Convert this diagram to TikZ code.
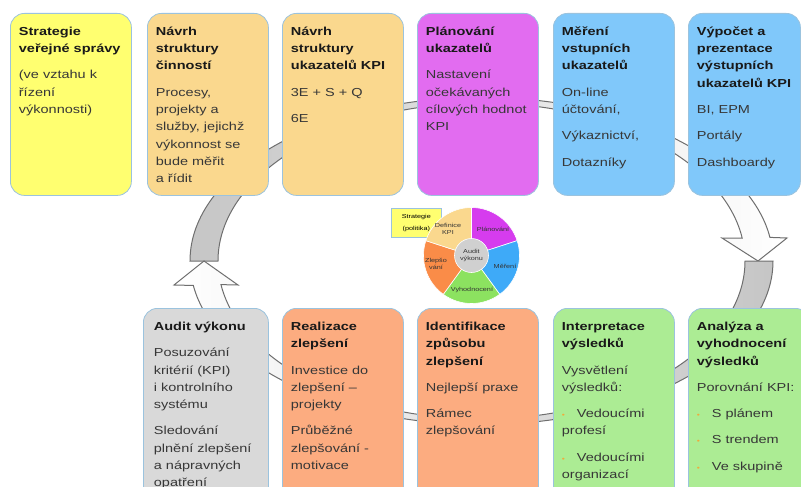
\documentclass[tikz,border=0pt]{standalone}
\usepackage{fontspec}
\setmainfont{Liberation Sans}[FakeStretch=1.25]
\usepackage{tikz}
\usetikzlibrary{calc}

\definecolor{cyellow}{RGB}{255,255,112}
\definecolor{corange}{RGB}{250,216,142}
\definecolor{cmagenta}{RGB}{226,108,240}
\definecolor{cblue}{RGB}{128,200,250}
\definecolor{cgrey}{RGB}{217,217,217}
\definecolor{csalmon}{RGB}{252,172,128}
\definecolor{cgreen}{RGB}{172,236,148}
\definecolor{cedge}{RGB}{155,195,222}
\definecolor{ctitle}{RGB}{25,25,25}
\definecolor{cbody}{RGB}{55,55,55}
\definecolor{cbullet}{RGB}{240,170,60}
\definecolor{cring}{RGB}{110,110,110}
\definecolor{pmagenta}{RGB}{214,60,238}
\definecolor{pblue}{RGB}{62,170,248}
\definecolor{pgreen}{RGB}{140,226,96}
\definecolor{porange}{RGB}{250,140,72}
\definecolor{pgrey}{RGB}{208,208,208}

\newlength{\stageh}
\setlength{\stageh}{170pt}
\newcommand{\stage}[3][104pt]{\parbox[t][\stageh][t]{#1}{\fontsize{11.6}{17.3}\selectfont
  \setlength{\parskip}{9pt}\raggedright
  \rule{0pt}{16pt}{\color{ctitle}\textbf{#2}}\par{\color{cbody}#3\par}}}
\newcommand{\bul}[1]{\par\hangindent=15pt\hangafter=1\makebox[15pt][l]{\textcolor{cbullet}{\scriptsize\textbullet}}#1}

\tikzset{
  stage/.style={draw=cedge, line width=0.8pt, rounded corners=14pt, anchor=north west,
    inner xsep=8.5pt, inner ysep=6pt, minimum width=121pt},
  ringband/.style={draw=cring, line width=1pt},
  pieslice/.style={draw=white, line width=0.6pt}
}

\begin{document}
\begin{tikzpicture}[x=1pt, y=-1pt]
\useasboundingbox (0,0) rectangle (801,487);
\clip (0,0) rectangle (801,487);
\coordinate (ring) at (481.5,261);
\coordinate (pie) at (471.5,255.5);

\path[ringband, left color=gray!45, right color=white]
  ($(ring)+(180:291.5 and 163.6)$) arc[start angle=180, end angle=351.7, x radius=291.5, y radius=163.6]
  -- (787,238) -- (758,261) -- (722,238)
  -- ($(ring)+(351.7:263.5 and 158)$) arc[start angle=351.7, end angle=180, x radius=263.5, y radius=158] -- cycle;
\path[ringband, left color=white, right color=gray!45]
  ($(ring)+(0:291.5 and 163.6)$) arc[start angle=0, end angle=171.4, x radius=291.5, y radius=163.6]
  -- (174,285) -- (204,261) -- (238,285)
  -- ($(ring)+(171.4:263.5 and 158)$) arc[start angle=171.4, end angle=0, x radius=263.5, y radius=158] -- cycle;

\begin{scope}[every node/.style={stage}]
  \node[fill=cyellow] (strategie) at (10,13) {\stage{Strategie\\veřejné správy}{(ve vztahu k\\řízení\\výkonnosti)}};
  \node[fill=corange] (cinnosti) at (147,13) {\stage{Návrh\\struktury\\činností}{Procesy,\\projekty a\\služby, jejichž\\výkonnost se\\bude měřit\\a řídit}};
  \node[fill=corange] (kpi) at (282,13) {\stage{Návrh\\struktury\\ukazatelů KPI}{3E + S + Q\par 6E}};
  \node[fill=cmagenta] (planovani) at (417,13) {\stage{Plánování\\ukazatelů}{Nastavení\\očekávaných\\cílových hodnot\\KPI}};
  \node[fill=cblue] (mereni) at (553,13) {\stage{Měření\\vstupních\\ukazatelů}{On-line\\účtování,\par Výkaznictví,\par Dotazníky}};
  \node[fill=cblue, minimum width=112pt] (vypocet) at (688,13) {\stage[95pt]{Výpočet a\\prezentace\\výstupních\\ukazatelů KPI}{BI, EPM\par Portály\par Dashboardy}};
\end{scope}

\setlength{\stageh}{185pt}
\begin{scope}[every node/.style={stage}]
  \node[fill=cgrey, minimum width=125pt] (audit) at (143,308) {\stage{Audit výkonu}{Posuzování\\kritérií (KPI)\\i kontrolního\\systému\par Sledování\\plnění zlepšení\\a nápravných\\opatření}};
  \node[fill=csalmon] (realizace) at (282,308) {\stage{Realizace\\zlepšení}{Investice do\\zlepšení –\\projekty\par Průběžné\\zlepšování -\\motivace}};
  \node[fill=csalmon] (identifikace) at (417,308) {\stage{Identifikace\\způsobu\\zlepšení}{Nejlepší praxe\par Rámec\\zlepšování}};
  \node[fill=cgreen] (interpretace) at (553,308) {\stage{Interpretace\\výsledků}{Vysvětlení\\výsledků:\bul{Vedoucími\\profesí}\bul{Vedoucími\\organizací}}};
  \node[fill=cgreen] (analyza) at (688,308) {\stage{Analýza a\\vyhodnocení\\výsledků}{Porovnání KPI:\bul{S plánem}\bul{S trendem}\bul{Ve skupině}}};
\end{scope}

\node[draw=cedge, fill=cyellow, line width=0.6pt, anchor=north west, minimum width=50pt, minimum height=29pt,
  text width=32pt, align=center, inner xsep=1pt, inner ysep=0pt, font=\fontsize{5.8}{7}\selectfont]
  (politika) at (391,208) {Strategie\\[5pt](politika)};
\foreach \a/\b/\c in {-90/-18/pmagenta, -18/54/pblue, 54/126/pgreen, 126/198/porange, 198/270/corange}
  \filldraw[pieslice, fill=\c] (pie) -- ++(\a:48) arc[start angle=\a, end angle=\b, radius=48] -- cycle;

\begin{scope}[every node/.style={font=\fontsize{5.8}{7}\selectfont, text=black!80, align=center, inner sep=0pt}]
  \node[circle, fill=pgrey, draw=white, line width=0.6pt, minimum size=34pt] (vykon) at (pie) {Audit\\výkonu};
  \node (plan) at (493,229) {Plánování};
  \node (mer) at (505,266) {Měření};
  \node (vyh) at (472,290) {Vyhodnocení};
  \node (zlep) at (436,264) {Zlepšo\\vání};
  \node (def) at (448,229) {Definice\\KPI};
\end{scope}
\end{tikzpicture}
\end{document}
